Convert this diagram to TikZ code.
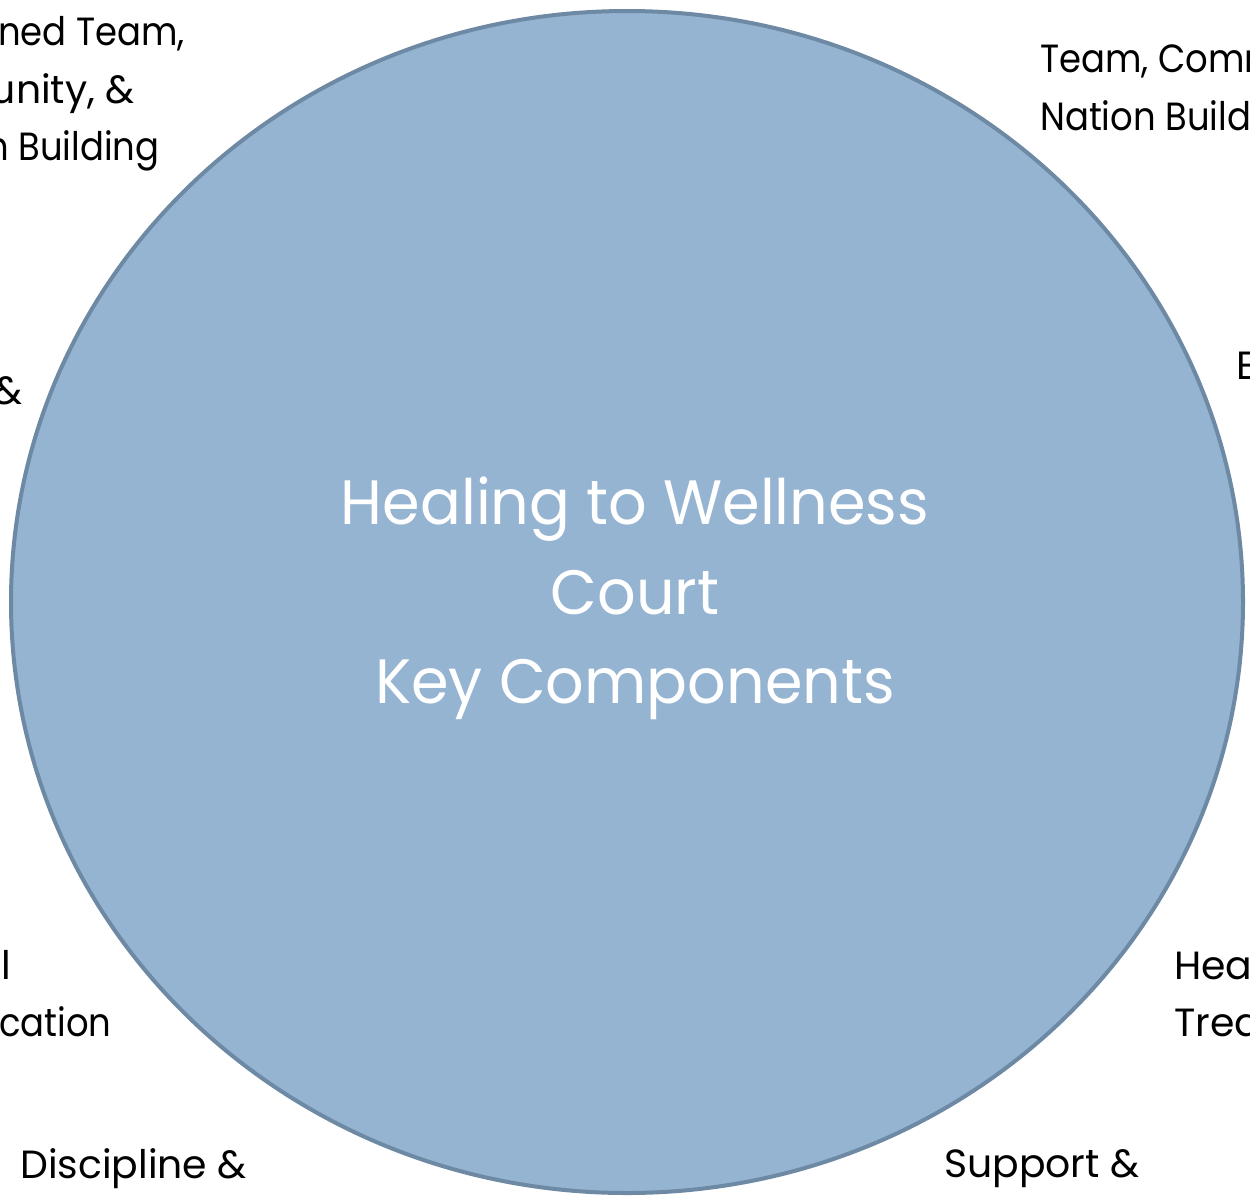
\documentclass[tikz,border=0pt]{standalone}
\usepackage{fontspec}
\usetikzlibrary{shapes.geometric}
\setmainfont{Poppins}
\newfontfamily\fut[FakeStretch=1.0]{Poppins}
\newfontfamily\futn[FakeStretch=0.9]{Poppins}
\newfontfamily\futt[FakeStretch=0.965]{Poppins}
\definecolor{circfill}{HTML}{95B4D2}
\definecolor{circline}{HTML}{6D89A4}
\begin{document}
\begin{tikzpicture}[x=0.75pt,y=-0.75pt,
  lab/.style={font=\fut\fontsize{29.5pt}{40pt}\selectfont, text=black, inner sep=0pt},
  labn/.style={font=\futn\fontsize{29.5pt}{40pt}\selectfont, text=black, inner sep=0pt},
  ttl/.style={font=\futt\fontsize{47pt}{60pt}\selectfont, text=white, inner sep=0pt, anchor=base}]
\useasboundingbox (0,0) rectangle (1250,1196);
\clip (0,0) rectangle (1250,1196);
\fill[white] (0,0) rectangle (1250,1196);
\node[draw=circline, fill=circfill, line width=3pt, ellipse, minimum width=1232*0.75pt, minimum height=1182*0.75pt, inner sep=0pt] (hub) at (627,602) {};
% title
\node[ttl] (t1) at (635,524) {Healing to Wellness};
\node[ttl] (t2) at (635,614) {Court};
\node[ttl] (t3) at (635,703) {Key Components};
% top left
\node[labn, anchor=base west] (tl1) at (-2,45) {ned Team,};
\node[lab, anchor=base east] (tl2) at (135,103) {unity, \&};
\node[labn, anchor=base west] (tl3) at (-14,160) {n Building};
% top right
\node[labn, anchor=base west] (tr1) at (1040,72) {Team, Comm};
\node[labn, anchor=base west] (tr2) at (1040,130) {Nation Build};
% right
\node[lab, anchor=base west] (r1) at (1236,379) {E};
% left
\node[lab, anchor=base east] (l1) at (23,404) {\&};
% lower left
\node[lab, anchor=base east] (ll1) at (11,979) {l};
\node[labn, anchor=base west] (ll2) at (-1,1036) {cation};
% lower right
\node[lab, anchor=base west] (lr1) at (1174,979) {Hea};
\node[lab, anchor=base west] (lr2) at (1174,1036) {Trea};
% bottom
\node[lab, anchor=base west] (b1) at (20,1178) {Discipline \&};
\node[lab, anchor=base west] (b2) at (944,1177) {Support \&};
\end{tikzpicture}
\end{document}
